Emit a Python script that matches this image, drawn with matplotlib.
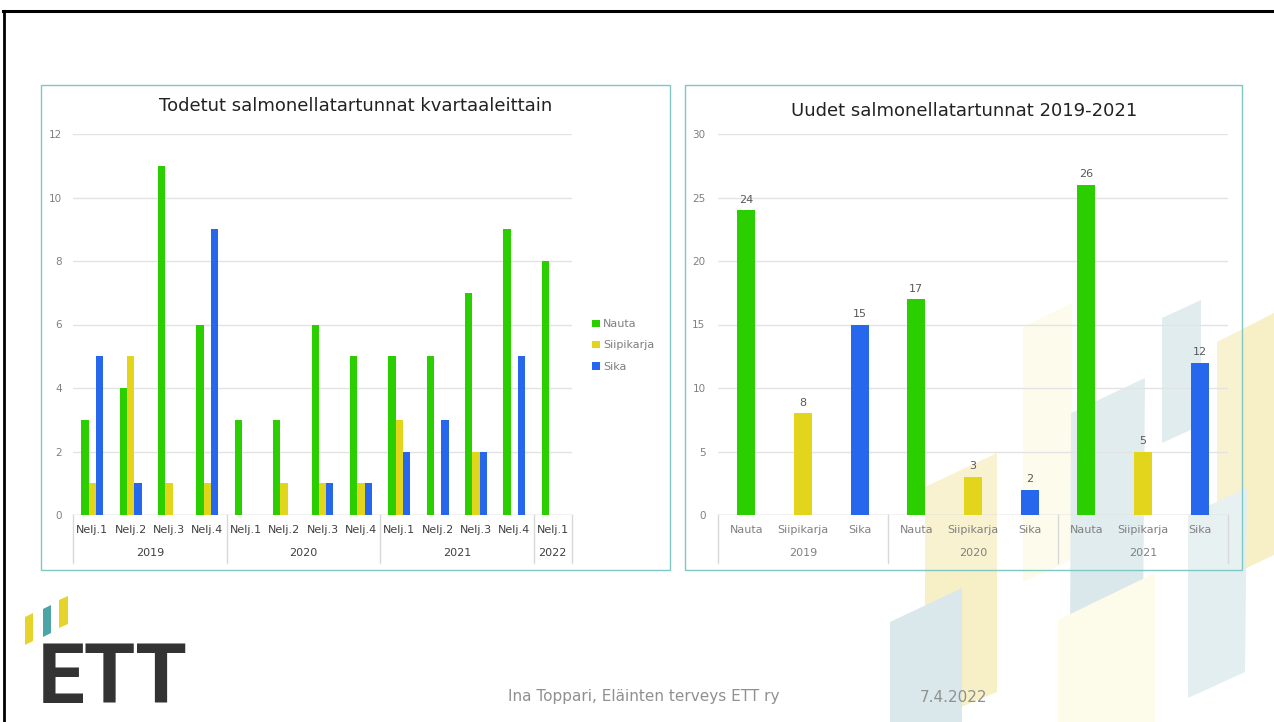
import numpy as np
import matplotlib
matplotlib.use("Agg")
import matplotlib.pyplot as plt
from matplotlib.patches import Polygon, Rectangle
from matplotlib.lines import Line2D

plt.rcParams['font.family'] = ['DejaVu Sans']

# Vasen kaavio: neljännesvuosittain
quarters = ['Nelj.1', 'Nelj.2', 'Nelj.3', 'Nelj.4'] * 3 + ['Nelj.1']
years_left = ['2019', '2020', '2021', '2022']
year_sizes_left = [4, 4, 4, 1]
nauta_q = [3, 4, 11, 6, 3, 3, 6, 5, 5, 5, 7, 9, 8]
siipikarja_q = [1, 5, 1, 1, 0, 1, 1, 1, 3, 0, 2, 0, 0]
sika_q = [5, 1, 0, 9, 0, 0, 1, 1, 2, 3, 2, 5, 0]

# Oikea kaavio: vuosittain
species = ['Nauta', 'Siipikarja', 'Sika'] * 3
years_right = ['2019', '2020', '2021']
new_cases = [24, 8, 15, 17, 3, 2, 26, 5, 12]

GREEN = '#2bcf00'
YELLOW = '#e3d41c'
BLUE = '#2667ee'
GRID = '#e3e3e3'
W, H = 1274, 722


def px(x, y):
    return (x / W, 1 - y / H)


fig = plt.figure(figsize=(W / 100, H / 100), dpi=100)
fig.patch.set_facecolor('white')

# taustan koristekuviot
shapes = [
    ('#fdfbe8', [(1023, 327), (1072, 303), (1072, 560), (1023, 582)]),
    ('#f7f0c6', [(925, 487), (997, 453), (997, 692), (925, 722)]),
    ('#dae8ec', [(890, 622), (962, 588), (962, 722), (890, 722)]),
    ('#dae8ec', [(1071, 413), (1145, 378), (1143, 618), (1070, 653)]),
    ('#dae8ec', [(1162, 318), (1201, 300), (1201, 425), (1162, 443)]),
    ('#f7f0c6', [(1217, 342), (1274, 313), (1274, 555), (1217, 582)]),
    ('#e3eef0', [(1188, 515), (1247, 488), (1245, 672), (1188, 698)]),
    ('#fdfbe9', [(1058, 620), (1155, 573), (1155, 722), (1058, 722)]),
]
for c, pts in shapes:
    fig.patches.append(Polygon([px(*p) for p in pts], closed=True, transform=fig.transFigure,
                               facecolor=c, edgecolor='none', zorder=0))

# kehys
fig.lines.append(Line2D([3 / W, 1], [1 - 11 / H] * 2, transform=fig.transFigure, color='black', lw=2.2))
fig.lines.append(Line2D([4 / W] * 2, [1 - 11 / H, 0], transform=fig.transFigure, color='black', lw=2))

# kaavioiden reunat (lähes läpinäkyvä valkoinen tausta)
for x0, x1 in [(41, 670), (685, 1242)]:
    fig.patches.append(Rectangle(px(x0, 570), (x1 - x0) / W, 485 / H, transform=fig.transFigure,
                                 facecolor=(1, 1, 1, 0.2), edgecolor='#7fc9c5', lw=1, zorder=1))


def style_axes(ax, ymax, step, pad):
    ax.set_zorder(3)
    ax.set_facecolor('none')
    ax.set_ylim(0, ymax)
    ax.set_yticks(np.arange(0, ymax + 1, step))
    ax.tick_params(axis='y', length=0, labelsize=7.5, labelcolor='#808080', pad=pad)
    ax.tick_params(axis='x', length=0, labelbottom=False)
    for s in ax.spines.values():
        s.set_visible(False)
    ax.grid(axis='y', color=GRID, lw=1)
    ax.set_axisbelow(True)
    ax.axhline(0, color='#d9d9d9', lw=1, zorder=1)


def group_labels(ax, labels, groups, sizes, color, row1, row2, sep_bottom):
    tr = ax.get_xaxis_transform()
    for i, lab in enumerate(labels):
        ax.text(i, row1, lab, transform=tr, ha='center', va='center', fontsize=8, color=color)
    start = 0
    edges = [-0.5]
    for g, n in zip(groups, sizes):
        ax.text(start + (n - 1) / 2, row2, g, transform=tr, ha='center', va='center', fontsize=8, color=color)
        start += n
        edges.append(start - 0.5)
    for e in edges:
        ax.plot([e, e], [0, sep_bottom], transform=tr, color='#d9d9d9', lw=1, clip_on=False)


# vasen kaavio
axL = fig.add_axes([73 / W, 1 - 515 / H, (572 - 73) / W, (515 - 134) / H])
style_axes(axL, 12, 2, 8)
x = np.arange(len(quarters))
bw = 0.19
axL.bar(x - bw, nauta_q, bw, color=GREEN, label='Nauta', zorder=2)
axL.bar(x, siipikarja_q, bw, color=YELLOW, label='Siipikarja', zorder=2)
axL.bar(x + bw, sika_q, bw, color=BLUE, label='Sika', zorder=2)
axL.set_xlim(-0.5, len(quarters) - 0.5)
group_labels(axL, quarters, years_left, year_sizes_left, '#404040', -0.04, -0.10, -0.125)
fig.text(*px(355.5, 106), 'Todetut salmonellatartunnat kvartaaleittain', fontsize=13, color='#222222',
         ha='center', va='center')
axL.legend(loc='center left', bbox_to_anchor=(1.02, 0.445), frameon=False, fontsize=8,
           labelcolor='#7f7f7f', handlelength=0.7, handleheight=0.7, handletextpad=0.3,
           labelspacing=1.0)

# oikea kaavio
axR = fig.add_axes([718 / W, 1 - 515 / H, (1228 - 718) / W, (515 - 134) / H])
style_axes(axR, 30, 5, 9)
xr = np.arange(len(species))
colors = [GREEN, YELLOW, BLUE] * 3
bars = axR.bar(xr, new_cases, 0.32, color=colors, zorder=2)
for b, v in zip(bars, new_cases):
    axR.annotate(str(v), (b.get_x() + b.get_width() / 2, v), xytext=(0, 4), textcoords='offset points',
                 ha='center', va='bottom', fontsize=8, color='#595959')
axR.set_xlim(-0.5, len(species) - 0.5)
group_labels(axR, species, years_right, [3, 3, 3], '#808080', -0.04, -0.10, -0.125)
fig.text(*px(964, 111), 'Uudet salmonellatartunnat 2019-2021', fontsize=13, color='#222222',
         ha='center', va='center')

# logo
for c, pts in [('#e6d42a', [(25, 617), (33, 613), (33, 641), (25, 645)]),
               ('#4ba4a7', [(43, 609), (51, 605), (51, 633), (43, 637)]),
               ('#e6d42a', [(59, 600), (68, 596), (68, 624), (59, 628)])]:
    fig.patches.append(Polygon([px(*p) for p in pts], closed=True, transform=fig.transFigure,
                               facecolor=c, edgecolor='none'))
fig.text(*px(38, 703), 'ETT', fontsize=60, fontweight='bold', family='Roboto', color='#333333',
         ha='left', va='baseline')

# alatunniste
fig.text(*px(508, 697), 'Ina Toppari, Eläinten terveys ETT ry', fontsize=11, color='#909090',
         ha='left', va='center')
fig.text(*px(920, 697), '7.4.2022', fontsize=11, color='#909090', ha='left', va='center')

fig.savefig('out.png', dpi=100)
